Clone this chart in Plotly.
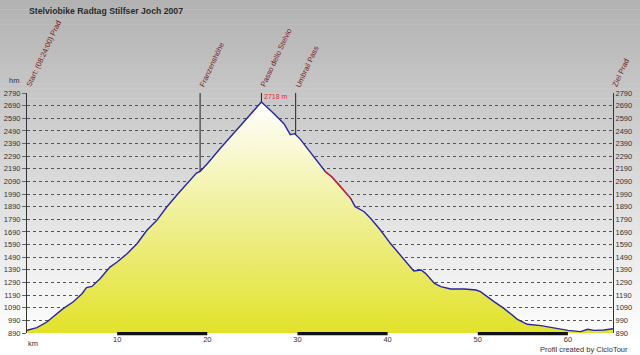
import numpy as np
import plotly.graph_objects as go

# ---------------- data ----------------
km = [0, 1.1, 2.2, 3.1, 4.0, 5.1, 6.1, 6.6, 7.2, 8.1, 9.2, 10.0, 11.1, 12.2, 13.3,
      14.4, 15.5, 16.6, 17.7, 18.8, 19.2, 20.0, 21.4, 22.9, 24.4, 26.0, 27.4, 28.5,
      29.2, 29.7, 30.3, 31.8, 33.1, 33.8, 34.8, 35.9, 36.4, 37.4, 38.1, 39.2, 40.3,
      41.4, 42.2, 42.9, 43.7, 44.2, 45.2, 45.9, 47.0, 48.5, 49.8, 50.3, 51.8, 52.9,
      54.4, 55.5, 57.0, 58.5, 60.0, 61.4, 62.2, 62.9, 64.0, 65.0]
elev = [912, 932, 977, 1030, 1083, 1135, 1201, 1249, 1259, 1320, 1412, 1452, 1518,
        1597, 1703, 1782, 1887, 1980, 2072, 2156, 2170, 2230, 2349, 2468, 2587, 2718,
        2626, 2547, 2460, 2468, 2425, 2286, 2167, 2127, 2048, 1956, 1890, 1850, 1798,
        1705, 1600, 1507, 1441, 1381, 1389, 1362, 1283, 1257, 1238, 1238, 1230, 1217,
        1138, 1085, 998, 959, 948, 927, 911, 901, 919, 911, 914, 924]

red_range_km = [33.1, 35.9]          # steep section drawn in red

marker_names = ["Start: (08:24:00) Prad", "Franzenshöhe", "Passo dello Stelvio",
                "Umbrail Pass", "Ziel Prad"]
marker_km = [0, 19.2, 26.0, 29.8, 65.0]

peak_label = "2718 m"
peak_km = 26.0

y_ticks = list(range(890, 2791, 100))
x_ticks = [10, 20, 30, 40, 50, 60]
scale_bar_segments = [[10, 20], [30, 40], [50, 60]]

title = "Stelviobike Radtag Stilfser Joch 2007"
credit = "Profil created by CicloTour"

# ---------------- layout constants ----------------
W, H = 640, 355
ML, MR, MT, MB = 27, 27, 93, 22
PH = H - MT - MB
FONT = "Liberation Sans, Arial, sans-serif"
YMIN, YMAX = 890, 2790
XMAX = 65.0

fig = go.Figure()

# background gradient strips (paper coords)
shapes = []
n_strips = 72
for i in range(n_strips):
    y_top_px = i * H / n_strips
    y_bot_px = (i + 1) * H / n_strips
    t = min(1.0, ((y_top_px + y_bot_px) / 2) / 340)
    c = int(178 + (255 - 178) * t)
    shapes.append(dict(type="rect", xref="paper", yref="paper",
                       x0=-ML / (W - ML - MR) - 0.01, x1=1 + MR / (W - ML - MR) + 0.01,
                       y0=(H - MB - y_bot_px) / PH, y1=(H - MB - y_top_px) / PH + 0.002,
                       fillcolor=f"rgb({c},{c},{c})", line=dict(width=0), layer="below"))

# filled profile
fig.add_trace(go.Scatter(
    x=km, y=elev, mode="lines", fill="tozeroy",
    line=dict(color="#2626a6", width=1.4),
    fillgradient=dict(type="vertical", start=YMIN, stop=max(elev),
                      colorscale=[[0, "#e2e22a"], [0.45, "#eeee8a"], [1, "#ffffff"]]),
    hoverinfo="skip", showlegend=False))

# red section
red_x = [k for k in km if red_range_km[0] <= k <= red_range_km[1]]
red_y = [e for k, e in zip(km, elev) if red_range_km[0] <= k <= red_range_km[1]]
fig.add_trace(go.Scatter(x=red_x, y=red_y, mode="lines",
                         line=dict(color="#e02020", width=1.4),
                         hoverinfo="skip", showlegend=False))

# marker vertical lines (interior markers; start/finish coincide with the axes)
mx, my = [], []
for k in marker_km:
    if 0 < k < XMAX:
        e = float(np.interp(k, km, elev))
        mx += [k, k, None]
        my += [YMAX, e, None]
fig.add_trace(go.Scatter(x=mx, y=my, mode="lines",
                         line=dict(color="#222222", width=1),
                         hoverinfo="skip", showlegend=False))

# dummy trace for right axis
fig.add_trace(go.Scatter(x=[0], y=[YMIN], yaxis="y2", mode="markers",
                         marker=dict(opacity=0), hoverinfo="skip", showlegend=False))

# scale bar segments on bottom
for a, b in scale_bar_segments:
    shapes.append(dict(type="rect", xref="x", yref="paper", x0=a, x1=b,
                       y0=-0.009, y1=0.004, fillcolor="#111111",
                       line=dict(width=0), layer="above"))

annotations = []
# marker labels
for name, k in zip(marker_names, marker_km):
    annotations.append(dict(x=k, y=1, xref="x", yref="paper", text=name,
                            textangle=-65, showarrow=False,
                            xanchor="left", yanchor="bottom", xshift=-5, yshift=2,
                            font=dict(family=FONT, size=7.5, color="#7a1a1a")))
# peak label
annotations.append(dict(x=peak_km, y=2762, xref="x", yref="y", text=peak_label,
                        showarrow=False, xanchor="left", yanchor="middle", xshift=1,
                        font=dict(family=FONT, size=7, color="#e03030")))
# title
annotations.append(dict(x=0, y=1, xref="paper", yref="paper", text=f"<b>{title}</b>",
                        showarrow=False, xanchor="left", yanchor="middle",
                        xshift=0, yshift=MT - 11,
                        font=dict(family=FONT, size=8.7, color="#2a2a2a")))
# hm / km
annotations.append(dict(x=0, y=1, xref="paper", yref="paper", text="hm",
                        showarrow=False, xanchor="center", yanchor="middle",
                        xshift=-13, yshift=13,
                        font=dict(family=FONT, size=7.5, color="#333333")))
annotations.append(dict(x=0, y=0, xref="paper", yref="paper", text="km",
                        showarrow=False, xanchor="center", yanchor="middle",
                        xshift=6, yshift=-10,
                        font=dict(family=FONT, size=7.5, color="#333333")))
# credit
annotations.append(dict(x=1, y=0, xref="paper", yref="paper", text=credit,
                        showarrow=False, xanchor="right", yanchor="middle",
                        xshift=17, yshift=-16,
                        font=dict(family=FONT, size=7.5, color="#333333")))

fig.update_layout(
    width=W, height=H,
    margin=dict(l=ML, r=MR, t=MT, b=MB, pad=0, autoexpand=False),
    paper_bgcolor="#ffffff", plot_bgcolor="rgba(0,0,0,0)",
    shapes=shapes, annotations=annotations,
    xaxis=dict(range=[0, XMAX], tickvals=x_ticks, showgrid=False, zeroline=False,
               showline=False, ticks="", ticklen=0, automargin=False,
               tickfont=dict(family=FONT, size=7.5, color="#333333")),
    yaxis=dict(range=[YMIN, YMAX], tickvals=y_ticks, showgrid=True,
               gridcolor="#555555", griddash="dot", gridwidth=1, automargin=False,
               zeroline=False, showline=True, linecolor="#333333", linewidth=1,
               ticks="outside", ticklen=4, tickcolor="#666666",
               tickfont=dict(family=FONT, size=7.5, color="#333333")),
    yaxis2=dict(range=[YMIN, YMAX], tickvals=y_ticks, overlaying="y", side="right",
                showgrid=False, zeroline=False, showline=True, linecolor="#333333",
                linewidth=1, ticks="", ticklen=0, automargin=False,
                tickfont=dict(family=FONT, size=7.5, color="#333333")),
    showlegend=False,
)

fig.write_html("out.html", config={"displayModeBar": False},
               post_script="document.body.style.margin='0';document.body.style.padding='0';")
